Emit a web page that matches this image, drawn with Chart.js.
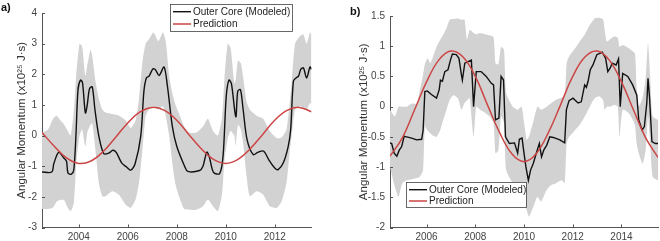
<!DOCTYPE html>
<html>
<head>
<meta charset="utf-8">
<script src="https://cdn.jsdelivr.net/npm/chart.js@4.4.1/dist/chart.umd.min.js"></script>
<style>
  body { margin: 0; background: #fff; }
  .panel { position: absolute; top: 0; width: 330px; height: 241px; }
  .tag { position: absolute; font: bold 11px "Liberation Sans", Arial, sans-serif; color: #111; }
</style>
</head>
<body>
<div class="panel" style="left:0"><canvas id="chartA" width="330" height="241"></canvas></div>
<div class="panel" style="left:330px"><canvas id="chartB" width="330" height="241"></canvas></div>
<div class="tag" style="left:1px;top:1px">a)</div>
<div class="tag" style="left:350px;top:5px">b)</div>
<script>
// ---- panel a data ----
const aXTicks = [2004, 2006, 2008, 2010, 2012];
const aYTicks = [-3, -2, -1, 0, 1, 2, 3, 4];

const aCoreYears = [2002.5, 2002.9, 2002.98, 2003.18, 2003.39, 2003.5, 2003.56, 2003.7, 2003.8, 2003.89,
  2003.97, 2004.07, 2004.15, 2004.27, 2004.34, 2004.44, 2004.55, 2004.66, 2004.82, 2005.02,
  2005.23, 2005.39, 2005.53, 2005.75, 2005.94, 2006.12, 2006.3, 2006.53, 2006.66, 2006.76,
  2006.87, 2007.03, 2007.13, 2007.28, 2007.48, 2007.62, 2007.82, 2008.0, 2008.32, 2008.45,
  2008.93, 2009.07, 2009.23, 2009.34, 2009.5, 2009.75, 2009.89, 2010.02, 2010.13, 2010.23,
  2010.41, 2010.49, 2010.6, 2010.71, 2010.87, 2011.12, 2011.32, 2011.55, 2011.77, 2012.0,
  2012.14, 2012.35, 2012.55, 2012.65, 2012.76, 2012.87, 2012.97, 2013.06, 2013.17, 2013.3,
  2013.44, 2013.5];
const aCoreValues = [-1.19, -1.19, -0.92, -0.55, -0.73, -0.84, -1.22, -1.26, -1.11, 0.09,
  1.5, 1.81, 1.74, 0.74, 0.96, 1.53, 1.59, 0.85, -0.02, -0.59,
  -0.57, -0.48, -0.55, -0.89, -1.02, -1.13, -0.92, -0.02, 1.45, 1.88,
  1.94, 2.18, 2.15, 1.96, 2.24, 1.61, 0.3, -0.35, -1.0, -1.17,
  -1.14, -1.0, -0.54, -0.73, -1.2, -1.24, -0.67, 1.28, 1.81, 1.7,
  0.61, 1.45, 1.5, 0.85, -0.13, -0.62, -0.54, -0.51, -0.81, -1.06,
  -1.11, -0.89, -0.35, 0.2, 1.77, 1.88, 1.94, 2.16, 2.21, 1.88,
  2.24, 2.16];

const aBandYears = [2002.5, 2002.75, 2002.95, 2003.1, 2003.25, 2003.4, 2003.55, 2003.67, 2003.8, 2003.9,
  2004.03, 2004.14, 2004.27, 2004.35, 2004.48, 2004.55, 2004.68, 2004.82, 2004.96, 2005.1,
  2005.37, 2005.64, 2005.91, 2006.12, 2006.32, 2006.46, 2006.6, 2006.73, 2006.87, 2007.05,
  2007.25, 2007.44, 2007.56, 2007.69, 2007.82, 2007.95, 2008.1, 2008.3, 2008.5, 2008.8,
  2009.07, 2009.27, 2009.48, 2009.68, 2009.85, 2009.95, 2010.08, 2010.2, 2010.35, 2010.4,
  2010.5, 2010.62, 2010.71, 2010.85, 2010.98, 2011.26, 2011.53, 2011.8, 2012.08, 2012.28,
  2012.48, 2012.6, 2012.69, 2012.83, 2013.03, 2013.17, 2013.3, 2013.44, 2013.5];
const aBandUpper = [0.1, 0.2, 0.55, 0.65, 0.5, 0.36, 0.15, 0.0, 0.8, 2.0,
  3.0, 2.9, 1.95, 2.3, 2.8, 2.6, 1.8, 1.2, 0.85, 0.75,
  0.7, 0.65, 0.5, 0.25, 0.5, 1.2, 2.4, 3.0, 3.14, 3.36,
  3.08, 3.36, 3.03, 1.94, 1.39, 1.0, 0.7, 0.3, 0.1, 0.1,
  0.3, 0.55, 0.15, 0.0, 0.6, 1.9, 3.0, 2.85, 1.7, 1.8,
  2.45, 2.35, 1.9, 1.1, 0.85, 0.65, 0.55, 0.15, -0.08, -0.06,
  0.2, 1.0, 1.72, 3.0, 3.25, 3.3, 3.0, 3.36, 3.3];
const aBandLower = [-2.4, -2.4, -2.35, -2.15, -2.1, -2.1, -2.35, -2.47, -2.2, -0.9,
  0.0, 0.2, -0.35, 0.1, 0.35, 0.41, -0.46, -1.55, -1.98, -1.98,
  -1.82, -1.93, -2.25, -2.36, -2.09, -1.55, -0.46, 0.63, 0.85, 0.96,
  0.85, 0.96, 0.6, 0.0, -0.9, -1.6, -2.0, -2.4, -2.42, -2.42,
  -2.31, -2.09, -2.31, -2.47, -1.9, -0.8, -0.1, 0.15, 0.0, -0.35,
  0.35, 0.2, -0.24, -1.33, -1.98, -1.82, -1.93, -2.31, -2.36, -2.15,
  -1.55, -0.6, -0.02, 0.85, 0.96, 0.9, 0.85, 1.07, 1.0];

const aPredYears = [2002.5, 2003, 2003.5, 2004, 2004.5, 2005, 2005.5, 2006, 2006.5, 2007, 2007.5, 2008,
  2008.5, 2009, 2009.5, 2010, 2010.5, 2011, 2011.5, 2012, 2012.5, 2013, 2013.5];
const aPredValues = [0.1, -0.35, -0.73, -0.91, -0.83, -0.52, -0.06, 0.41, 0.77, 0.92, 0.82, 0.5,
  0.03, -0.43, -0.78, -0.91, -0.78, -0.43, 0.03, 0.5, 0.82, 0.92, 0.78];

// ---- panel b data ----
const bXTicks = [2006, 2008, 2010, 2012, 2014];
const bYTicks = [-2, -1.5, -1, -0.5, 0, 0.5, 1, 1.5];

const bCoreYears = [2004.5, 2004.57, 2004.67, 2004.78, 2004.88, 2004.98, 2005.08, 2005.18, 2005.39, 2005.59,
  2005.8, 2005.86, 2005.93, 2006.03, 2006.2, 2006.41, 2006.52, 2006.57, 2006.65, 2006.75,
  2006.88, 2006.98, 2007.06, 2007.22, 2007.33, 2007.43, 2007.47, 2007.57, 2007.84, 2007.93,
  2008.04, 2008.24, 2008.45, 2008.65, 2008.75, 2008.83, 2008.97, 2009.06, 2009.16, 2009.24,
  2009.4, 2009.61, 2009.74, 2009.81, 2009.92, 2010.0, 2010.08, 2010.18, 2010.27, 2010.38,
  2010.52, 2010.63, 2010.72, 2010.82, 2010.93, 2011.06, 2011.2, 2011.47, 2011.67, 2011.74,
  2011.85, 2012.01, 2012.22, 2012.35, 2012.49, 2012.56, 2012.63, 2012.72, 2012.83, 2012.99,
  2013.21, 2013.35, 2013.44, 2013.54, 2013.62, 2013.78, 2013.88, 2013.95, 2014.05, 2014.26,
  2014.46, 2014.63, 2014.71, 2014.85, 2014.94, 2015.04, 2015.09, 2015.15, 2015.25, 2015.39,
  2015.5];
const bCoreValues = [-0.6, -0.61, -0.77, -0.82, -0.72, -0.66, -0.49, -0.5, -0.52, -0.55,
  -0.54, -0.39, 0.25, 0.26, 0.2, 0.14, 0.28, 0.44, 0.42, 0.58,
  0.61, 0.77, 0.87, 0.86, 0.8, 0.53, 0.44, 0.72, 0.77, 0.0,
  0.58, 0.58, 0.5, 0.39, 0.36, -0.22, -0.19, 0.5, 0.44, -0.5,
  -0.61, -0.6, -0.77, -0.54, -0.52, -0.77, -1.0, -1.22, -1.05, -0.94,
  -0.75, -0.61, -0.83, -0.71, -0.64, -0.5, -0.51, -0.55, -0.6, -0.05,
  0.1, 0.14, 0.06, 0.08, 0.36, 0.32, 0.42, 0.61, 0.69, 0.86,
  0.9, 0.8, 0.58, 0.64, 0.72, 0.69, 0.79, 0.0, 0.55, 0.5,
  0.36, 0.19, -0.22, -0.39, -0.33, 0.06, 0.47, 0.17, -0.58, -0.61,
  -0.61];

const bBandYears = [2004.5, 2004.7, 2004.85, 2005.0, 2005.2, 2005.4, 2005.6, 2005.73, 2005.86, 2005.93,
  2006.05, 2006.15, 2006.27, 2006.41, 2006.55, 2006.7, 2006.82, 2006.95, 2007.1, 2007.29,
  2007.43, 2007.56, 2007.66, 2007.77, 2007.93, 2008.04, 2008.2, 2008.4, 2008.58, 2008.75,
  2008.83, 2008.95, 2009.06, 2009.18, 2009.27, 2009.54, 2009.75, 2009.9, 2010.0, 2010.11,
  2010.2, 2010.38, 2010.55, 2010.7, 2010.93, 2011.1, 2011.3, 2011.55, 2011.67, 2011.75,
  2011.85, 2012.05, 2012.29, 2012.5, 2012.7, 2012.9, 2013.1, 2013.25, 2013.31, 2013.4,
  2013.55, 2013.71, 2013.85, 2013.92, 2014.05, 2014.33, 2014.55, 2014.62, 2014.71, 2014.87,
  2015.0, 2015.09, 2015.18, 2015.28, 2015.5];
const bBandUpper = [-0.05, -0.16, 0.0, 0.0, 0.0, 0.05, 0.05, 0.28, 0.53, 0.7,
  0.8, 0.72, 0.83, 0.99, 1.1, 1.2, 1.3, 1.44, 1.45, 1.46,
  1.44, 1.44, 1.11, 1.27, 1.22, 1.2, 1.22, 1.2, 1.18, 1.15,
  0.72, 0.7, 0.99, 0.94, 0.22, 0.0, -0.05, 0.0, -0.25, -0.55,
  -0.5, -0.25, 0.0, -0.05, 0.0, 0.05, 0.11, 0.15, 0.17, 0.72,
  0.83, 0.94, 1.08, 1.2, 1.35, 1.46, 1.47, 1.44, 1.27, 1.08,
  1.12, 1.16, 1.14, 0.99, 1.02, 0.96, 0.88, 0.33, 0.0, 0.15,
  0.5, 1.05, 0.5, -0.16, -0.22];
const bBandLower = [-1.0, -1.33, -1.49, -1.27, -1.22, -1.2, -1.18, -1.16, -1.05, -0.33,
  -0.4, -0.44, -0.48, -0.5, -0.4, -0.2, -0.05, 0.11, 0.19, 0.14,
  -0.05, 0.06, 0.1, 0.14, -0.5, 0.0, -0.05, -0.1, -0.16, -0.27,
  -0.77, -0.72, -0.16, -0.27, -1.05, -1.27, -1.38, -1.45, -1.6, -1.71,
  -1.82, -1.66, -1.49, -1.57, -1.38, -1.3, -1.27, -1.22, -1.27, -0.61,
  -0.5, -0.41, -0.3, -0.16, 0.0, 0.14, 0.17, 0.1, -0.05, 0.0,
  0.0, 0.03, 0.0, -0.5, -0.05, -0.12, -0.3, -0.6, -0.77, -0.94,
  -0.7, -0.16, -0.61, -1.16, -1.22];

const bPredYears = [2004.5, 2005, 2005.5, 2006, 2006.5, 2007, 2007.5, 2008, 2008.5, 2009, 2009.5, 2010,
  2010.5, 2011, 2011.5, 2012, 2012.5, 2013, 2013.5, 2014, 2014.5, 2015, 2015.5];
const bPredValues = [-0.82, -0.52, -0.06, 0.41, 0.77, 0.92, 0.82, 0.5, 0.03, -0.43, -0.78, -0.91,
  -0.78, -0.43, 0.03, 0.5, 0.82, 0.92, 0.77, 0.41, -0.06, -0.52, -0.84];

const coreLabel = "Outer Core (Modeled)";
const predLabel = "Prediction";
const yTitle = "Angular Momentum (x10\u00b2\u2075 J\u00b7s)";

const FONT = '"Liberation Sans", Arial, sans-serif';
const RED = "#cc4646";
const BLACK = "#111111";
const GRAY = "#d2d2d2";
const AXIS = "#555555";

const toPoints = (xs, ys) => xs.map((x, i) => ({ x: x, y: ys[i] }));

// inward tick marks like the original figure
const innerTicks = {
  id: "innerTicks",
  afterDraw(chart) {
    const ctx = chart.ctx;
    const xs = chart.scales.x;
    const ys = chart.scales.y;
    const area = chart.chartArea;
    ctx.save();
    ctx.strokeStyle = AXIS;
    ctx.lineWidth = 1;
    ctx.beginPath();
    xs.ticks.forEach((t) => {
      const px = Math.round(xs.getPixelForValue(t.value)) + 0.5;
      ctx.moveTo(px, area.bottom);
      ctx.lineTo(px, area.bottom - 3);
    });
    ys.ticks.forEach((t) => {
      const py = Math.round(ys.getPixelForValue(t.value)) + 0.5;
      ctx.moveTo(area.left, py);
      ctx.lineTo(area.left + 3, py);
    });
    ctx.stroke();
    ctx.restore();
  },
};

// boxed legend sitting inside the plot
const boxLegend = {
  id: "boxLegend",
  afterDraw(chart, args, opts) {
    const ctx = chart.ctx;
    ctx.save();
    ctx.fillStyle = "#fff";
    ctx.fillRect(opts.x, opts.y, opts.w, opts.h);
    ctx.strokeStyle = "#444";
    ctx.lineWidth = 0.8;
    ctx.strokeRect(opts.x + 0.5, opts.y + 0.5, opts.w, opts.h);
    const items = [chart.data.datasets[1], chart.data.datasets[0]];
    items.forEach((ds, i) => {
      const ry = opts.y + opts.rows[i];
      ctx.strokeStyle = ds.borderColor;
      ctx.lineWidth = ds.borderWidth;
      ctx.beginPath();
      ctx.moveTo(opts.x + 3, ry);
      ctx.lineTo(opts.x + 21, ry);
      ctx.stroke();
      ctx.fillStyle = "#222";
      ctx.font = "10px " + FONT;
      ctx.textBaseline = "middle";
      ctx.fillText(ds.label, opts.x + 23, ry + 0.5);
    });
    ctx.restore();
  },
};

function makeChart(canvas, cfg) {
  return new Chart(canvas, {
    type: "line",
    data: {
      datasets: [
        {
          label: predLabel,
          data: toPoints(cfg.predYears, cfg.predValues),
          borderColor: RED,
          borderWidth: 1.5,
          pointRadius: 0,
          tension: 0.4,
          fill: false,
        },
        {
          label: coreLabel,
          data: toPoints(cfg.coreYears, cfg.coreValues),
          borderColor: BLACK,
          borderWidth: 1.4,
          pointRadius: 0,
          tension: cfg.coreTension,
          fill: false,
        },
        {
          label: "upper",
          data: toPoints(cfg.bandYears, cfg.bandUpper),
          borderWidth: 0,
          borderColor: GRAY,
          backgroundColor: GRAY,
          pointRadius: 0,
          tension: 0.2,
          fill: "+1",
        },
        {
          label: "lower",
          data: toPoints(cfg.bandYears, cfg.bandLower),
          borderWidth: 0,
          borderColor: GRAY,
          pointRadius: 0,
          tension: 0.2,
          fill: false,
        },
      ],
    },
    options: {
      responsive: false,
      animation: false,
      devicePixelRatio: 1,
      layout: { padding: cfg.padding },
      scales: {
        x: {
          type: "linear",
          min: cfg.xMin,
          max: cfg.xMax,
          afterBuildTicks: (s) => {
            s.ticks = cfg.xTicks.map((v) => ({ value: v }));
          },
          afterFit: (s) => {
            s.height = cfg.xHeight;
          },
          grid: { display: false, drawTicks: false },
          border: { display: true, color: AXIS, width: 1 },
          ticks: {
            padding: 4,
            color: "#444",
            font: { family: FONT, size: 10 },
            maxRotation: 0,
            callback: (v) => String(v),
          },
        },
        y: {
          min: cfg.yMin,
          max: cfg.yMax,
          afterBuildTicks: (s) => {
            s.ticks = cfg.yTicks.map((v) => ({ value: v }));
          },
          afterFit: (s) => {
            s.width = cfg.yWidth;
          },
          grid: { display: false, drawTicks: false },
          border: { display: true, color: AXIS, width: 1 },
          ticks: {
            padding: 5,
            color: "#444",
            font: { family: FONT, size: 10 },
            callback: (v) => String(v),
          },
          title: {
            display: true,
            text: yTitle,
            color: "#333",
            font: { family: FONT, size: 11.5 },
            padding: { top: cfg.titlePad, bottom: 0 },
          },
        },
      },
      plugins: {
        legend: { display: false },
        tooltip: { enabled: false },
        boxLegend: cfg.legend,
      },
    },
    plugins: [innerTicks, boxLegend],
  });
}

makeChart(document.getElementById("chartA"), {
  coreYears: aCoreYears, coreValues: aCoreValues, coreTension: 0.3,
  bandYears: aBandYears, bandUpper: aBandUpper, bandLower: aBandLower,
  predYears: aPredYears, predValues: aPredValues,
  xTicks: aXTicks, yTicks: aYTicks,
  xMin: 2002.5, xMax: 2013.5, yMin: -3, yMax: 4,
  padding: { left: 0, top: 13, right: 18.5, bottom: 0 },
  xHeight: 13.5, yWidth: 42, titlePad: 15,
  legend: { x: 170, y: 4, w: 122, h: 27, rows: [7.7, 20] },
});

makeChart(document.getElementById("chartB"), {
  coreYears: bCoreYears, coreValues: bCoreValues, coreTension: 0,
  bandYears: bBandYears, bandUpper: bBandUpper, bandLower: bBandLower,
  predYears: bPredYears, predValues: bPredValues,
  xTicks: bXTicks, yTicks: bYTicks,
  xMin: 2004.5, xMax: 2015.5, yMin: -2, yMax: 1.5,
  padding: { left: 0, top: 16, right: 2, bottom: 0 },
  xHeight: 13.5, yWidth: 60, titlePad: 27,
  legend: { x: 76, y: 182, w: 120, h: 25, rows: [7.7, 19] },
});
</script>
</body>
</html>
